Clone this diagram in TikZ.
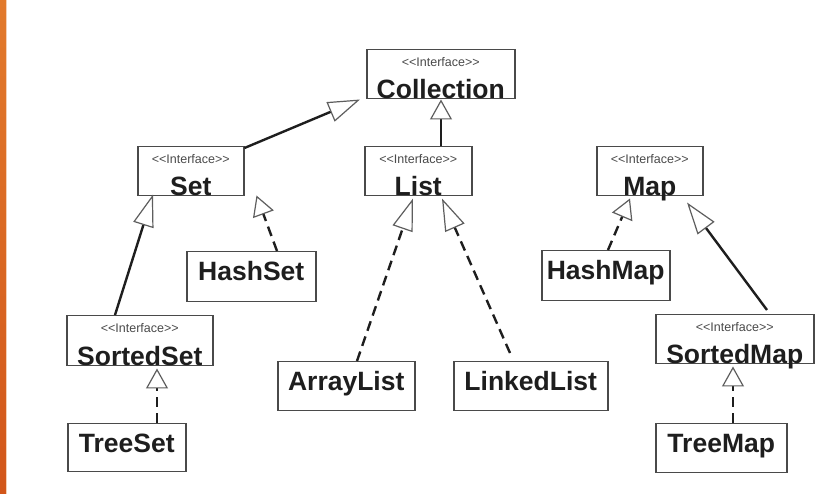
\documentclass[tikz,border=0pt]{standalone}
\usepackage{fontspec}
\setmainfont{Liberation Sans}
\usetikzlibrary{arrows.meta}
\definecolor{boxgray}{HTML}{4A4A4A}
\definecolor{headgray}{HTML}{5E5E5E}
\definecolor{ink}{HTML}{1E1E1E}
\definecolor{barTop}{HTML}{E27A2C}
\definecolor{barBot}{HTML}{D2561A}
% stereotype text, each angle bracket set on its own so no guillemet ligature forms
\newcommand\stereotext{\mbox{<}\mbox{<}Interface\mbox{>}\mbox{>}}
\begin{document}
\begin{tikzpicture}[x=1pt,y=-1pt,
  box/.style={draw=boxgray, line width=1.5pt, fill=white, inner sep=0pt, anchor=north west},
  stereo/.style={inner sep=0pt, anchor=base, text=boxgray, font=\fontsize{12.5}{15}\selectfont},
  cname/.style={inner sep=0pt, anchor=base, text=ink, font=\fontsize{26.5}{30}\selectfont\bfseries},
  link/.style={draw=ink, line width=2.4pt},
  impl/.style={link, dash pattern=on 10pt off 6pt},
  headS/.style={-{Triangle[open, length=20pt, width=22pt, line width=1.2pt, color=headgray, fill=white]}},
  headL/.style={-{Triangle[open, length=32pt, width=21pt, line width=1.2pt, color=headgray, fill=white]}},
]
\useasboundingbox (0,0) rectangle (839,494);
\fill[white] (0,0) rectangle (839,494);
% orange page edge
\shade[top color=barTop, bottom color=barBot] (0,0) rectangle (6,494);
\fill[barTop!35] (6,0) rectangle (7.2,494);

% class boxes
\node[box, minimum width=148pt, minimum height=49pt] (coll) at (366,49) {};
\node[box, minimum width=106pt, minimum height=49pt] (set) at (137,146) {};
\node[box, minimum width=107pt, minimum height=49pt] (list) at (364,146) {};
\node[box, minimum width=106pt, minimum height=49pt] (map) at (596,146) {};
\node[box, minimum width=129pt, minimum height=50pt] (hashset) at (186,251) {};
\node[box, minimum width=128pt, minimum height=50pt] (hashmap) at (541,250) {};
\node[box, minimum width=146pt, minimum height=50pt] (sortedset) at (66,315) {};
\node[box, minimum width=158pt, minimum height=49pt] (sortedmap) at (655,314) {};
\node[box, minimum width=137pt, minimum height=49pt] (arraylist) at (277,361) {};
\node[box, minimum width=154pt, minimum height=49pt] (linkedlist) at (453,361) {};
\node[box, minimum width=118pt, minimum height=48pt] (treeset) at (67,423) {};
\node[box, minimum width=131pt, minimum height=49pt] (treemap) at (655,423) {};

% interface labels
\foreach \b in {coll,set,list,map,sortedset,sortedmap}{
  \node[stereo] (\b-st) at ([yshift=-18pt]\b.north) {\stereotext};
}
\node[cname] (coll-nm) at ([yshift=1pt]coll.south) {Collection};
\node[cname] (set-nm) at ([yshift=1pt]set.south) {Set};
\node[cname] (list-nm) at ([yshift=1pt]list.south) {List};
\node[cname] (map-nm) at ([yshift=1pt]map.south) {Map};
\node[cname] (sortedset-nm) at ([yshift=1pt]sortedset.south) {SortedSet};
\node[cname] (sortedmap-nm) at ([yshift=1pt]sortedmap.south) {SortedMap};

% class labels
\node[cname] (hashset-nm) at ([yshift=-30pt]hashset.north) {HashSet};
\node[cname] (hashmap-nm) at ([yshift=-30pt]hashmap.north) {HashMap};
\node[cname] (arraylist-nm) at ([yshift=-30pt]arraylist.north) {ArrayList};
\node[cname] (linkedlist-nm) at ([yshift=-30pt]linkedlist.north) {LinkedList};
\node[cname] (treeset-nm) at ([yshift=-30pt]treeset.north) {TreeSet};
\node[cname] (treemap-nm) at ([yshift=-30pt]treemap.north) {TreeMap};

% generalisation (solid)
\draw[link, headL] ([yshift=-2pt]set.north east) -- ([xshift=-6pt]coll.south west);
\draw[link, headS] ([xshift=77pt]list.north west) -- ([xshift=75pt]coll.south west);
\draw[link, headL] ([xshift=49pt]sortedset.north west) -- ([xshift=16pt,yshift=2pt]set.south west);
\draw[link, headL] ([xshift=112pt,yshift=4pt]sortedmap.north west) -- ([xshift=91pt,yshift=-6pt]map.south west);

% realisation (dashed)
\draw[impl, headS] ([xshift=91pt]hashset.north west) -- ([xshift=12pt,yshift=1pt]set.south east);
\draw[impl, headL] ([xshift=80pt]arraylist.north west) -- ([xshift=49pt,yshift=-2pt]list.south west);
\draw[impl, headL] ([xshift=57pt,yshift=8pt]linkedlist.north west) -- ([xshift=78pt,yshift=-2pt]list.south west);
\draw[impl, headS] ([xshift=67pt]hashmap.north west) -- ([xshift=34pt,yshift=-2pt]map.south west);
\draw[impl, headS] ([xshift=90pt]treeset.north west) -- ([xshift=91pt,yshift=-2pt]sortedset.south west);
\draw[impl, headS] ([xshift=78pt]treemap.north west) -- ([xshift=78pt,yshift=-2pt]sortedmap.south west);
\end{tikzpicture}
\end{document}
